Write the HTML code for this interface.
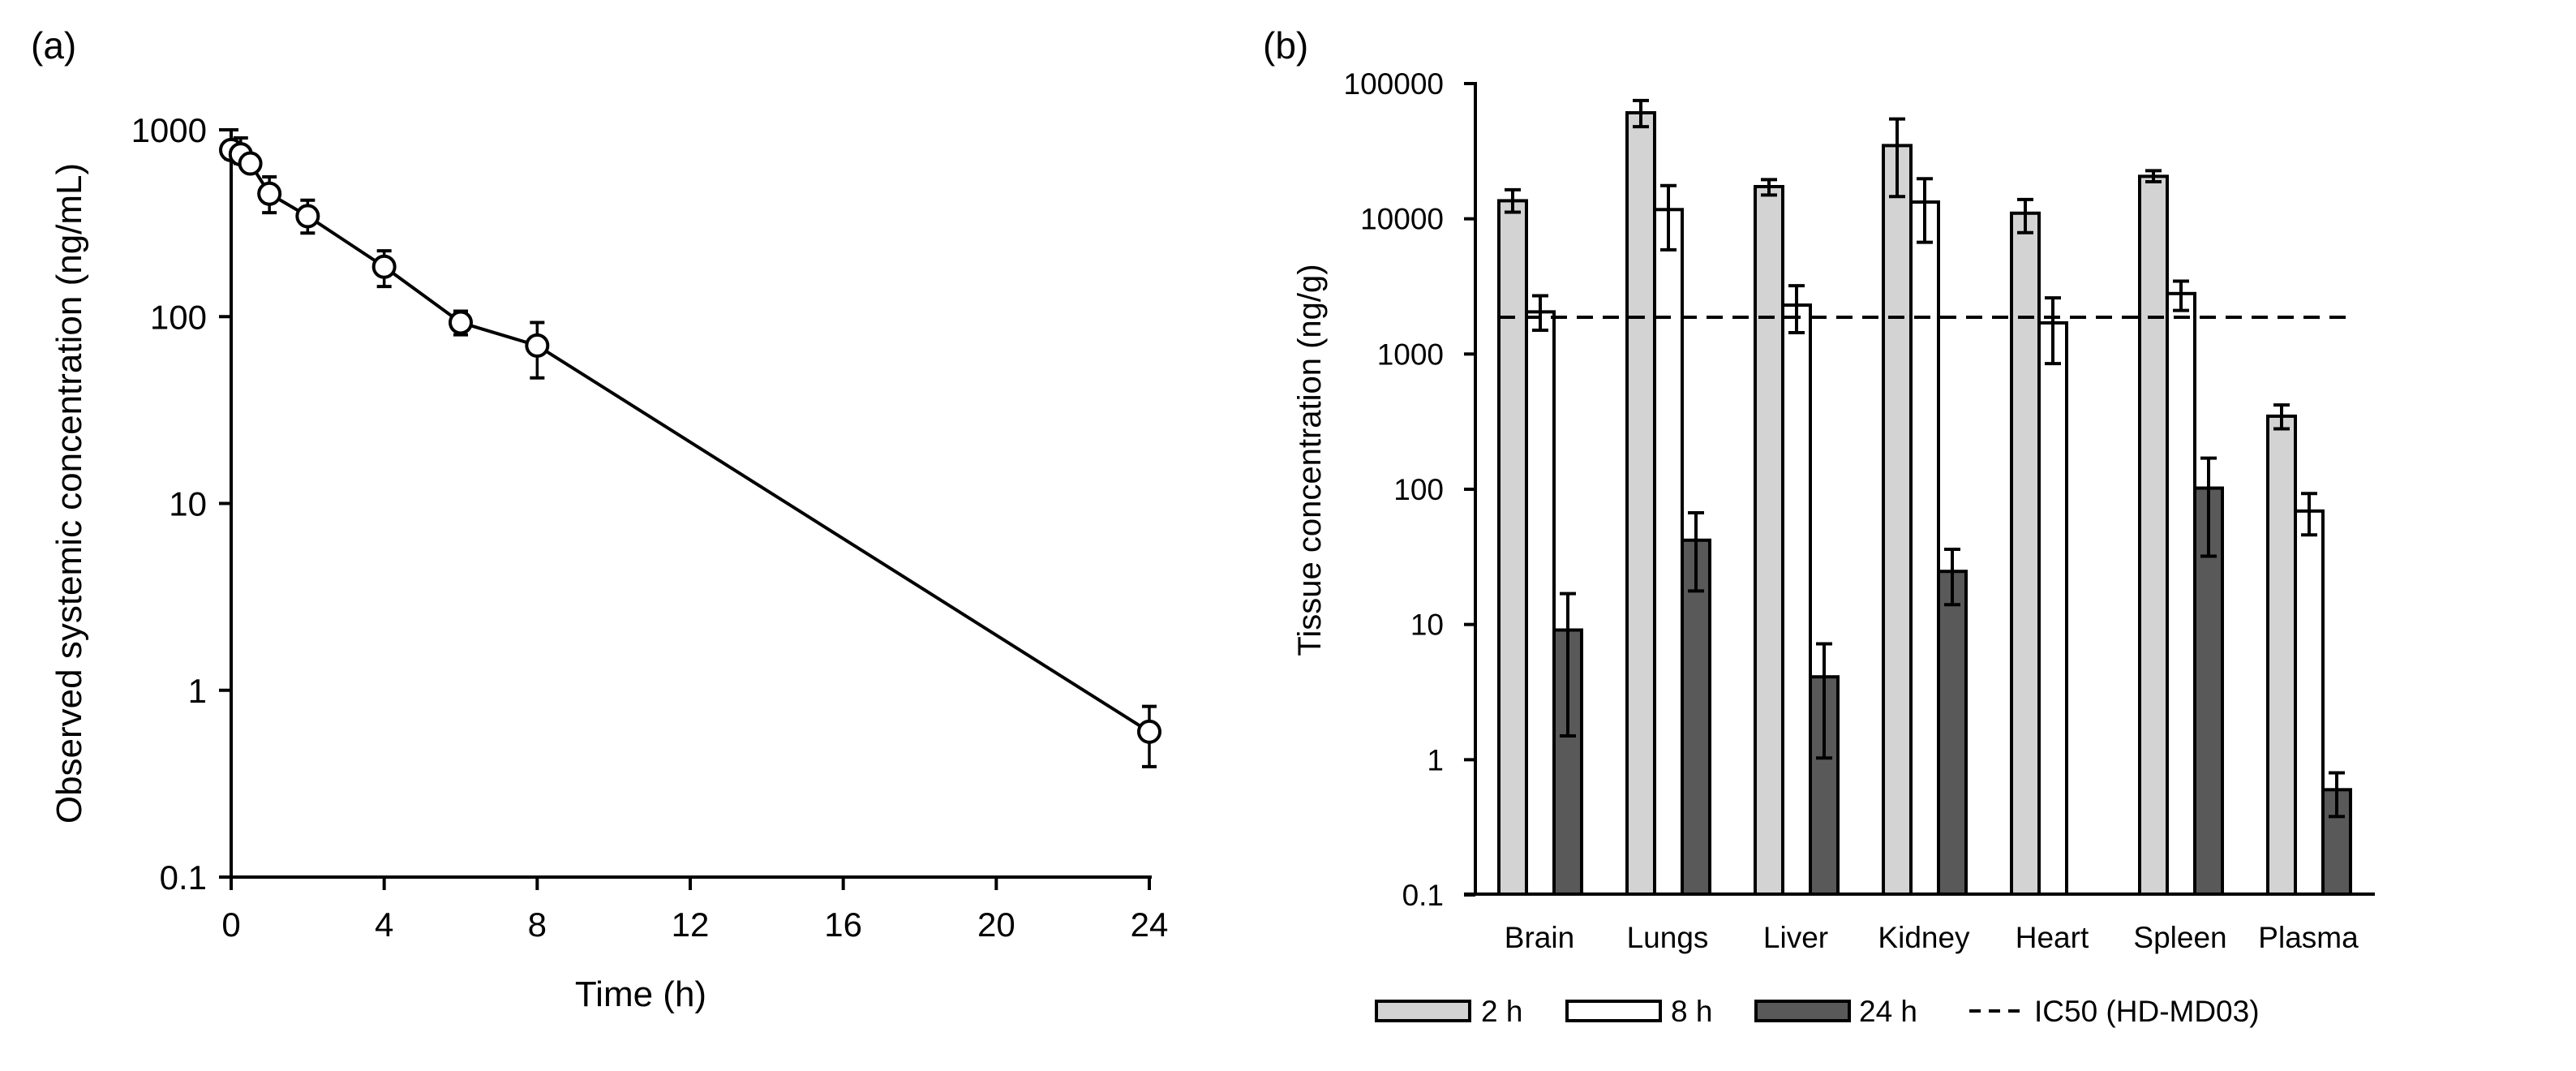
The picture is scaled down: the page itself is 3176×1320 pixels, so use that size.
<!DOCTYPE html>
<html><head><meta charset="utf-8"><style>
html,body{margin:0;padding:0;background:#fff}
svg text{font-family:"Liberation Sans",sans-serif;fill:#000}
</style></head><body>
<svg id="fig" width="3176" height="1315" viewBox="0 0 3176 1315" xmlns="http://www.w3.org/2000/svg">
<text x="38" y="72" font-size="46">(a)</text>
<text x="1557" y="72" font-size="46">(b)</text>
<g id="pa"></g>
<g id="pb"></g>
</svg>
<script>
// Panel A data
const aTimes=[0,0.25,0.5,1,2,4,6,8,24];
const aMeans=[780,740,660,455,345,185,93,70,0.6];
const aUpper=[1000,905,730,560,420,225,107,93,0.82];
const aLower=[700,660,600,360,280,145,80,47,0.39];
const aXTicks=[0,4,8,12,16,20,24];
const aYTicks=[0.1,1,10,100,1000];
// Panel B data
const bCats=["Brain","Lungs","Liver","Kidney","Heart","Spleen","Plasma"];
const b2h=[13600,60800,17300,34800,11000,20600,347];
const b2hUp=[16400,75000,19500,54700,13900,22700,420];
const b2hLo=[11200,48000,15000,14600,7900,18800,280];
const b8h=[2050,11700,2300,13300,1700,2800,69];
const b8hUp=[2700,17600,3200,19800,2600,3460,93];
const b8hLo=[1500,5900,1440,6700,850,2100,46];
const b24h=[9.1,42,4.1,24.7,null,102,0.6];
const b24hUp=[16.9,67,7.2,36,null,170,0.8];
const b24hLo=[1.5,17.7,1.03,14,null,32,0.38];
const bYTicks=[0.1,1,10,100,1000,10000,100000];
const ic50=1870;
const NS="http://www.w3.org/2000/svg";
function mk(p,tag,at,txt){const e=document.createElementNS(NS,tag);for(const k in at)e.setAttribute(k,at[k]);if(txt!=null)e.textContent=txt;p.appendChild(e);return e;}
// ---- Panel A
const pa=document.getElementById('pa');
const ax=t=>285+t*(1417-285)/24;
const ay=v=>1081-(Math.log10(v)+1)*(1081-160)/4;
let e;
e=mk(pa,'line',{x1:285,y1:160,x2:285,y2:1083,stroke:'#000','stroke-width':4});


e=mk(pa,'line',{x1:270,y1:1081,x2:1420,y2:1081,stroke:'#000','stroke-width':4});


aYTicks.forEach(v=>{const y=ay(v);
 mk(pa,'line',{x1:270,y1:y,x2:285,y2:y,stroke:'#000','stroke-width':4});
 e=mk(pa,'text',{x:255,y:y+15,'font-size':42,'text-anchor':'end'},String(v));
 
 });
aXTicks.forEach(t=>{const x=ax(t);
 mk(pa,'line',{x1:x,y1:1081,x2:x,y2:1097,stroke:'#000','stroke-width':4});
 e=mk(pa,'text',{x:x,y:1154,'font-size':42,'text-anchor':'middle'},String(t));
 
 });
e=mk(pa,'text',{x:790,y:1240,'font-size':44,'text-anchor':'middle'},'Time (h)');


e=mk(pa,'text',{x:0,y:0,'font-size':44,'text-anchor':'middle',transform:'translate(100,608) rotate(-90)'},'Observed systemic concentration (ng/mL)');


e=mk(pa,'polyline',{points:aTimes.map((t,i)=>ax(t)+','+ay(aMeans[i])).join(' '),fill:'none',stroke:'#000','stroke-width':4});


aTimes.forEach((t,i)=>{const x=ax(t);
 const g=mk(pa,'g',{});
 
 
 mk(g,'line',{x1:x,y1:ay(aUpper[i]),x2:x,y2:ay(aLower[i]),stroke:'#000','stroke-width':3.5});
 mk(g,'line',{x1:x-9,y1:ay(aUpper[i]),x2:x+9,y2:ay(aUpper[i]),stroke:'#000','stroke-width':4});
 mk(g,'line',{x1:x-9,y1:ay(aLower[i]),x2:x+9,y2:ay(aLower[i]),stroke:'#000','stroke-width':4});});
aTimes.forEach((t,i)=>{
 e=mk(pa,'circle',{cx:ax(t),cy:ay(aMeans[i]),r:13,fill:'#fff',stroke:'#000','stroke-width':4});
 
 });
// ---- Panel B
const pb=document.getElementById('pb');
const bx0=1819,band=158,bw=34;
const by=v=>1103-(Math.log10(v)+1)*(1103-103)/6;
bYTicks.forEach(v=>{const y=by(v);
 mk(pb,'line',{x1:1805,y1:y,x2:1819,y2:y,stroke:'#000','stroke-width':4});
 e=mk(pb,'text',{x:1780,y:y+13,'font-size':37,'text-anchor':'end'},String(v));
 
 });
e=mk(pb,'text',{x:0,y:0,'font-size':40,'text-anchor':'middle',transform:'translate(1628,567) rotate(-90)'},'Tissue concentration (ng/g)');


const series=[[b2h,b2hUp,b2hLo,'#d3d3d3','bar-2h'],[b8h,b8hUp,b8hLo,'#ffffff','bar-8h'],[b24h,b24hUp,b24hLo,'#595959','bar-24h']];
bCats.forEach((c,i)=>{
 const start=bx0+i*band+29;
 series.forEach((s,j)=>{const v=s[0][i];if(v==null)return;
  const x=start+j*bw,y=by(v);
  e=mk(pb,'rect',{x:x,y:y,width:bw,height:1102-y,fill:s[3],stroke:'#000','stroke-width':4});
  
  
  const cx=x+bw/2,yu=by(s[1][i]),yl=by(s[2][i]);
  const g=mk(pb,'g',{});
  
  
  mk(g,'line',{x1:cx,y1:yu,x2:cx,y2:yl,stroke:'#000','stroke-width':4});
  mk(g,'line',{x1:cx-10,y1:yu,x2:cx+10,y2:yu,stroke:'#000','stroke-width':4});
  mk(g,'line',{x1:cx-10,y1:yl,x2:cx+10,y2:yl,stroke:'#000','stroke-width':4});});
 e=mk(pb,'text',{x:bx0+i*band+band/2,y:1168,'font-size':37,'text-anchor':'middle'},c);
 
 });
e=mk(pb,'line',{x1:1819,y1:101,x2:1819,y2:1104,stroke:'#000','stroke-width':4});


e=mk(pb,'line',{x1:1805,y1:1102,x2:2928,y2:1102,stroke:'#000','stroke-width':4});


e=mk(pb,'line',{x1:1848,y1:by(ic50),x2:2896,y2:by(ic50),stroke:'#000','stroke-width':4,'stroke-dasharray':'20 12'});


// legend
const leg=[[1697,'#d3d3d3','2 h',1826],[1932,'#ffffff','8 h',2060],[2165,'#595959','24 h',2292]];
leg.forEach(l=>{const g=mk(pb,'g',{});
 
 
 mk(g,'rect',{x:l[0],y:1234,width:115,height:24,fill:l[1],stroke:'#000','stroke-width':4});
 mk(g,'text',{x:l[3],y:1259,'font-size':37},l[2]);});
const gl=mk(pb,'g',{});


mk(gl,'line',{x1:2428,y1:1246,x2:2490,y2:1246,stroke:'#000','stroke-width':4,'stroke-dasharray':'14 10'});
mk(gl,'text',{x:2508,y:1259,'font-size':37},'IC50 (HD-MD03)');
</script>
</body></html>
